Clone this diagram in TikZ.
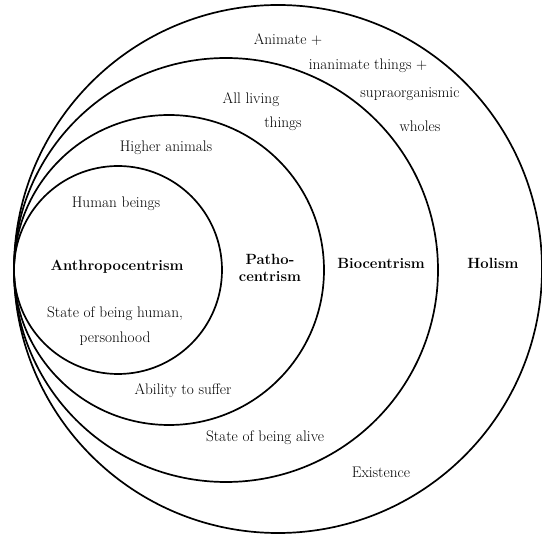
\documentclass[tikz,border=0pt]{standalone}
\begin{document}
\begin{tikzpicture}[x=1pt,y=-1pt,
  ring/.style={draw=black,line width=1.7pt},
  lbl/.style={font=\fontsize{15.3}{17}\selectfont,inner sep=0pt,align=center},
  head/.style={font=\fontsize{14.8}{17}\selectfont\bfseries,inner sep=0pt,align=center}]
\useasboundingbox (0,0) rectangle (542,534);
% rings, all touching at the left
\draw[ring] (278,269) circle[radius=264];
\draw[ring] (226,270) circle[radius=212];
\draw[ring] (169,270) circle[radius=155];
\draw[ring] (118,270) circle[radius=104];
% headings
\node[head] (anthro) at (117,267) {Anthropocentrism};
\node[head] (patho) at (270,268) {Patho-\\centrism};
\node[head] (bio) at (381,263) {Biocentrism};
\node[head] (hol) at (493,263) {Holism};
% upper labels
\node[lbl] (human) at (116,204) {Human beings};
\node[lbl] (higher) at (166,148) {Higher animals};
\node[lbl] (living1) at (251,100) {All living};
\node[lbl] (living2) at (283,124) {things};
\node[lbl] (anim1) at (288,40) {Animate +};
\node[lbl] (anim2) at (368,66) {inanimate things +};
\node[lbl] (anim3) at (410,94) {supraorganismic};
\node[lbl] (anim4) at (420,126) {wholes};
% lower labels
\node[lbl] (state1) at (115,314) {State of being human,};
\node[lbl] (state2) at (115,339) {personhood};
\node[lbl] (suffer) at (183,391) {Ability to suffer};
\node[lbl] (alive) at (265,438) {State of being alive};
\node[lbl] (exist) at (381,472) {Existence};
\end{tikzpicture}
\end{document}
